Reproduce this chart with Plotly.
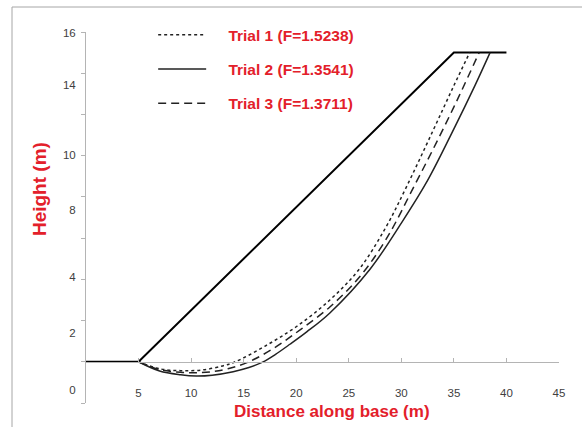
import plotly.graph_objects as go

# Ground / slope profile
ground_x = [0, 5, 35, 40]
ground_y = [2, 2, 17, 17]

# Trial slip surfaces
t1_name = "Trial 1 (F=1.5238)"
t1_x = [5, 7, 9, 11, 13, 14.2, 17, 20, 23.2, 26, 28.5, 30.5, 33, 35, 36.5]
t1_y = [2, 1.66, 1.57, 1.6, 1.8, 2.0, 2.75, 3.7, 5.0, 6.5, 8.5, 10.5, 13.2, 15.4, 17]

t2_name = "Trial 2 (F=1.3541)"
t2_x = [5, 7, 9, 10.5, 12, 14, 15.5, 16.8, 18, 19.4, 21, 23.2, 27, 30, 32.5, 35, 37, 38.44]
t2_y = [2, 1.55, 1.37, 1.31, 1.35, 1.52, 1.72, 1.98, 2.35, 2.85, 3.45, 4.37, 6.48, 8.73, 10.8, 13.3, 15.4, 17]

t3_name = "Trial 3 (F=1.3711)"
t3_x = [5, 7, 9, 10.5, 12, 13.5, 15.5, 18, 20.5, 23.2, 26, 28.5, 31.3, 33.5, 35.5, 37.4]
t3_y = [2, 1.62, 1.49, 1.47, 1.52, 1.66, 2.0, 2.7, 3.6, 4.66, 6.1, 7.9, 10.6, 12.8, 14.9, 17]

# Axis tick labels
x_tickvals = [5, 10, 15, 20, 25, 30, 35, 40, 45]
x_ticktext = ["5", "10", "15", "20", "25", "30", "35", "40", "45"]
y_tickvals = [17.97, 15.43, 12.03, 9.36, 6.11, 3.40, 0.63]
y_ticktext = ["16", "14", "10", "8", "4", "2", "0"]
y_minor_vals = [0, 2, 4, 6, 8, 10, 12, 14, 16, 18]

RED = "#e3202a"
AX = "#b4b4b4"
TXT = "#404040"
NB = "\u00a0" * 4
FONT = "Liberation Sans, Arial, sans-serif"

fig = go.Figure()
fig.add_trace(go.Scatter(x=ground_x, y=ground_y, mode="lines",
                         line=dict(color="black", width=2), showlegend=False))
fig.add_trace(go.Scatter(x=t1_x, y=t1_y, mode="lines", name=NB + t1_name,
                         line=dict(color="#222222", width=1.5, dash="3px,3px", shape="spline"),
                         legendgroup="a"))
fig.add_trace(go.Scatter(x=t2_x, y=t2_y, mode="lines", name=NB + t2_name,
                         line=dict(color="#222222", width=1.5, shape="spline"),
                         legendgroup="b"))
fig.add_trace(go.Scatter(x=t3_x, y=t3_y, mode="lines", name=NB + t3_name,
                         line=dict(color="#222222", width=1.5, dash="8px,5px", shape="spline"),
                         legendgroup="c"))

fig.update_layout(
    width=582, height=427,
    margin=dict(l=86, r=23, t=32, b=24),
    paper_bgcolor="white", plot_bgcolor="white",
    font=dict(family=FONT, color=TXT, size=11.5),
    legend=dict(x=0.142, y=1.037, xanchor="left", yanchor="top",
                bgcolor="rgba(0,0,0,0)", itemwidth=48, traceorder="grouped",
                tracegroupgap=11,
                font=dict(color=RED, size=15.5, family=FONT, weight="bold")),
    xaxis=dict(range=[0, 45], tickvals=x_tickvals, ticktext=x_ticktext,
               showgrid=False, zeroline=False, showline=True, linecolor=AX, linewidth=1,
               ticks="inside", ticklen=4, tickcolor=AX,
               anchor="free", position=2 / 18, ticklabelstandoff=20,
               tickfont=dict(size=11.5, color=TXT)),
    yaxis=dict(range=[0, 18], tickvals=y_tickvals, ticktext=y_ticktext,
               showgrid=False, zeroline=False, showline=True, linecolor=AX, linewidth=1,
               ticks="", ticklabelstandoff=7,
               minor=dict(tickvals=y_minor_vals, ticks="outside", ticklen=4, tickcolor=AX,
                          showgrid=False),
               tickfont=dict(size=11.5, color=TXT)),
    annotations=[
        dict(text="<b>Distance along base (m)</b>", xref="paper", yref="paper",
             x=0.521, y=(403 - 411) / 371, xanchor="center", yanchor="middle",
             showarrow=False, font=dict(color=RED, size=17)),
        dict(text="<b>Height (m)</b>", xref="paper", yref="paper",
             x=-0.097, y=0.577, xanchor="center", yanchor="middle", textangle=-90,
             showarrow=False, font=dict(color=RED, size=19)),
    ],
    shapes=[
        dict(type="rect", xref="paper", yref="paper",
             x0=(12 - 86) / 473, x1=1.2, y0=-0.2, y1=(403 - 7) / 371,
             line=dict(color="#a6a6a6", width=1), fillcolor="rgba(0,0,0,0)", layer="below"),
    ],
)

fig.write_html("out.html", config={"displayModeBar": False},
               post_script="document.body.style.margin='0px';")
